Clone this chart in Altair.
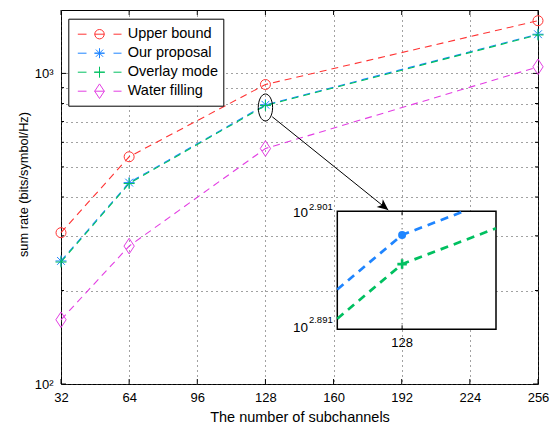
import math
import altair as alt
import pandas as pd

# ---------------- data ----------------
SUBCHANNELS = [32, 64, 128, 256]
SERIES = ["Upper bound", "Our proposal", "Overlay mode", "Water filling"]
UPPER_BOUND = [307, 539, 921, 1478]
OUR_PROPOSAL = [249, 445, 792.5, 1337]
OVERLAY_MODE = [247, 442, 788, 1330]
WATER_FILLING = [161, 278, 573, 1050]
VALUES = [UPPER_BOUND, OUR_PROPOSAL, OVERLAY_MODE, WATER_FILLING]
COLORS = ["#ff3333", "#1f85ff", "#00c060", "#e33ee3"]

X_TICKS = [32, 64, 96, 128, 160, 192, 224, 256]
Y_TICKS = [100, 200, 300, 400, 500, 600, 700, 800, 900, 1000]
Y_MAJOR = [100, 1000]
Y_MINOR = [200, 300, 400, 500, 600, 700, 800, 900]
Y_LABELS = {100: "10²", 1000: "10³"}
X_DOMAIN = [32, 256]
Y_DOMAIN = [100, 1600]

ZOOM_INDEX = 2            # the 128-subchannel point that is magnified
INSET_SERIES = [1, 2]     # Our proposal, Overlay mode
INSET_X_DOMAIN = [126.82, 129.71]
INSET_EXP = [2.891, 2.901]
INSET_TICK_X = 128

ARROW_X = [131.2, 185.7]
ARROW_Y = [725, 363]

# ---------------- layout / style ----------------
FONT = "Liberation Sans"
W, H = 477, 374
INSET_X_RANGE = [276.3, 435.0]
INSET_Y_RANGE = [319.3, 201.3]

CIRCLE = "M1,0A1,1,0,1,1,-1,0A1,1,0,1,1,1,0Z"
ASTER = "M0,-1L0,1M-1,0L1,0M-0.71,-0.71L0.71,0.71M-0.71,0.71L0.71,-0.71"
PLUS = "M0,-1L0,1M-1,0L1,0"
DIAMOND = "M0,-1L0.66,0L0,1L-0.66,0Z"
MARKERS = [CIRCLE, ASTER, PLUS, DIAMOND]
MARKER_SIZES = [100, 121, 121, 243]

DASHES = "M-2.17,0L-1.3,0M1.4,0L2.2,0M-0.5,0L0.5,0"
LEGEND_PATHS = [
    DASHES + "M0.47,0A0.47,0.47,0,1,1,-0.47,0A0.47,0.47,0,1,1,0.47,0",
    DASHES + "M0,-0.5L0,0.5M-0.5,0L0.5,0M-0.36,-0.36L0.36,0.36M-0.36,0.36L0.36,-0.36",
    DASHES + "M0,-0.55L0,0.55M-0.55,0L0.55,0",
    DASHES + "M0,-0.73L0.48,0L0,0.73L-0.48,0Z",
]
ELLIPSE = "M0,-1A0.53,1,0,1,1,0,1A0.53,1,0,1,1,0,-1Z"
ARROW_HEAD = "M0,0L0.9,2L0,1.5L-0.9,2Z"

rows = []
for name, vals in zip(SERIES, VALUES):
    for n, v in zip(SUBCHANNELS, vals):
        rows.append({"series": name, "n": n, "rate": v})
df = pd.DataFrame(rows)

ylabel_expr = " : ".join(
    [f"datum.value == {k} ? '{v}'" for k, v in Y_LABELS.items()]) + " : ''"


def Xm(field, axis=True):
    ax = alt.Axis(values=X_TICKS, title="The number of subchannels", labelPadding=7,
                  labelFlush=False, labelOverlap=False, titleFontSize=14.5,
                  titleY=33, titleBaseline="middle", format="d") if axis else None
    return alt.X(f"{field}:Q", scale=alt.Scale(domain=X_DOMAIN, nice=False, zero=False), axis=ax)


def Ym(field, axis=True):
    ax = alt.Axis(values=Y_TICKS, labelExpr=ylabel_expr, labelPadding=8, labelFlush=False,
                  labelOverlap=False, title="sum rate (bits/symbol/Hz)", titleFontSize=12.8,
                  titleAngle=270, titleX=-38, titleY=174, titleBaseline="middle",
                  titleAlign="center") if axis else None
    return alt.Y(f"{field}:Q", scale=alt.Scale(type="log", domain=Y_DOMAIN, nice=False), axis=ax)


def Xi(field):
    return alt.X(f"{field}:Q", scale=alt.Scale(domain=INSET_X_DOMAIN, range=INSET_X_RANGE,
                                              nice=False, zero=False), axis=None)


def Yi(field):
    return alt.Y(f"{field}:Q", scale=alt.Scale(type="log", domain=[10 ** e for e in INSET_EXP],
                                              range=INSET_Y_RANGE, nice=False), axis=None)


# ---------------- main panel ----------------
main_layers = []

# inward ticks (MATLAB style box)
xt = pd.DataFrame({"n": X_TICKS})
main_layers.append(alt.Chart(xt).mark_rule(color="black", strokeWidth=1).encode(
    x=Xm("n"), y=alt.value(H), y2=alt.value(H - 5)))
main_layers.append(alt.Chart(xt).mark_rule(color="black", strokeWidth=1).encode(
    x=Xm("n"), y=alt.value(0), y2=alt.value(5)))
for vals, ln in ((Y_MAJOR, 5), (Y_MINOR, 3)):
    yt = pd.DataFrame({"rate": vals})
    main_layers.append(alt.Chart(yt).mark_rule(color="black", strokeWidth=1).encode(
        y=Ym("rate"), x=alt.value(0), x2=alt.value(ln)))
    main_layers.append(alt.Chart(yt).mark_rule(color="black", strokeWidth=1).encode(
        y=Ym("rate"), x=alt.value(W), x2=alt.value(W - ln)))

for i, name in enumerate(SERIES):
    sd = df[df.series == name]
    main_layers.append(alt.Chart(sd).mark_line(
        color=COLORS[i], strokeWidth=1.1, strokeDash=[7, 5]).encode(x=Xm("n"), y=Ym("rate")))
    main_layers.append(alt.Chart(sd).mark_point(
        shape=MARKERS[i], size=MARKER_SIZES[i], filled=False, color=COLORS[i],
        strokeWidth=1, opacity=1).encode(x=Xm("n"), y=Ym("rate")))

# highlight ellipse around the magnified point
hl = pd.DataFrame({"n": [SUBCHANNELS[ZOOM_INDEX]], "rate": [OUR_PROPOSAL[ZOOM_INDEX]]})
main_layers.append(alt.Chart(hl).mark_point(
    shape=ELLIPSE, size=729, filled=False, color="black", strokeWidth=1, opacity=1,
    yOffset=2.7).encode(x=Xm("n"), y=Ym("rate")))

leg = alt.Legend(title=None, orient="none", legendX=7.3, legendY=8.7, symbolSize=400,
                 symbolStrokeWidth=1, symbolOffset=15.7, labelOffset=17.7, padding=5,
                 rowPadding=1, labelFont=FONT, labelFontSize=14.5, labelColor="black",
                 strokeColor="black", fillColor="white", symbolFillColor="transparent")
main_layers.append(alt.Chart(df).transform_filter("false").mark_point(
    filled=False, opacity=1, strokeWidth=1).encode(
    x=Xm("n"), y=Ym("rate"),
    color=alt.Color("series:N", scale=alt.Scale(domain=SERIES, range=COLORS), legend=leg),
    shape=alt.Shape("series:N", scale=alt.Scale(domain=SERIES, range=LEGEND_PATHS), legend=leg)))

main = alt.layer(*main_layers)

# ---------------- inset ----------------
def clip_polyline(xs, ls, x0, x1, y0, y1):
    pts = []
    for i in range(len(xs) - 1):
        ax, ay, bx, by = xs[i], ls[i], xs[i + 1], ls[i + 1]
        dx, dy = bx - ax, by - ay
        t0, t1, ok = 0.0, 1.0, True
        for p, q in ((-dx, ax - x0), (dx, x1 - ax), (-dy, ay - y0), (dy, y1 - ay)):
            if p == 0:
                if q < 0:
                    ok = False
                    break
            else:
                t = q / p
                if p < 0:
                    t0 = max(t0, t)
                else:
                    t1 = min(t1, t)
        if ok and t0 <= t1:
            for t in (t0, t1):
                pt = (ax + t * dx, ay + t * dy)
                if not pts or abs(pts[-1][0] - pt[0]) > 1e-9:
                    pts.append(pt)
    return pts


inset_layers = []
box = pd.DataFrame({"x0": [INSET_X_DOMAIN[0]], "x1": [INSET_X_DOMAIN[1]],
                    "y0": [10 ** INSET_EXP[0]], "y1": [10 ** INSET_EXP[1]]})
inset_layers.append(alt.Chart(box).mark_rect(fill="white", stroke="black", strokeWidth=1.5).encode(
    x=Xi("x0"), x2="x1", y=Yi("y0"), y2="y1"))
grid = pd.DataFrame({"n": [INSET_TICK_X], "lo": [10 ** INSET_EXP[0]], "hi": [10 ** INSET_EXP[1]]})
inset_layers.append(alt.Chart(grid).mark_rule(color="#333", strokeWidth=1, strokeDash=[1, 4]).encode(
    x=Xi("n"), y=Yi("lo"), y2="hi"))
inset_layers.append(alt.Chart(grid).mark_rule(color="black", strokeWidth=1).encode(
    x=Xi("n"), y=Yi("lo"), y2=alt.value(INSET_Y_RANGE[0] - 4)))
inset_layers.append(alt.Chart(grid).mark_rule(color="black", strokeWidth=1).encode(
    x=Xi("n"), y=Yi("hi"), y2=alt.value(INSET_Y_RANGE[1] + 4)))

inset_markers = [("circle", 64, True, 1), (PLUS, 90, False, 2.6)]
for k, si in enumerate(INSET_SERIES):
    vals = VALUES[si]
    pts = clip_polyline(SUBCHANNELS, [math.log10(v) for v in vals],
                        INSET_X_DOMAIN[0], INSET_X_DOMAIN[1], INSET_EXP[0], INSET_EXP[1])
    ld = pd.DataFrame({"n": [p[0] for p in pts], "rate": [10 ** p[1] for p in pts],
                       "o": list(range(len(pts)))})
    inset_layers.append(alt.Chart(ld).mark_line(
        color=COLORS[si], strokeWidth=2.7, strokeDash=[8, 6]).encode(
        x=Xi("n"), y=Yi("rate"), order="o:Q"))
    shp, sz, fil, sw = inset_markers[k]
    md = pd.DataFrame({"n": [SUBCHANNELS[ZOOM_INDEX]], "rate": [vals[ZOOM_INDEX]]})
    inset_layers.append(alt.Chart(md).mark_point(
        shape=shp, size=sz, filled=fil, color=COLORS[si], strokeWidth=sw, opacity=1).encode(
        x=Xi("n"), y=Yi("rate")))

lab128 = pd.DataFrame({"n": [INSET_TICK_X], "y": [10 ** INSET_EXP[0]], "t": [str(INSET_TICK_X)]})
inset_layers.append(alt.Chart(lab128).mark_text(
    font=FONT, fontSize=13, color="black", baseline="middle", dy=13.7).encode(
    x=Xi("n"), y=Yi("y"), text="t:N"))
LABEL_DY = {INSET_EXP[0]: (-1.3, -9.6), INSET_EXP[1]: (2.0, -4.8)}
for e in INSET_EXP:
    ld = pd.DataFrame({"n": [INSET_X_DOMAIN[0]], "y": [10 ** e], "b": ["10"], "s": [f"{e:.3f}"]})
    dy_b, dy_s = LABEL_DY[e]
    inset_layers.append(alt.Chart(ld).mark_text(
        font=FONT, fontSize=13.5, color="black", align="right", baseline="middle",
        dx=-29.3, dy=dy_b).encode(x=Xi("n"), y=Yi("y"), text="b:N"))
    inset_layers.append(alt.Chart(ld).mark_text(
        font=FONT, fontSize=9.5, color="black", align="right", baseline="middle",
        dx=-4.6, dy=dy_s).encode(x=Xi("n"), y=Yi("y"), text="s:N"))

inset = alt.layer(*inset_layers)

# ---------------- arrow ----------------
def px(x):
    return (x - X_DOMAIN[0]) / (X_DOMAIN[1] - X_DOMAIN[0]) * W


def py(y):
    lo, hi = math.log10(Y_DOMAIN[0]), math.log10(Y_DOMAIN[1])
    return H * (hi - math.log10(y)) / (hi - lo)


ang = math.degrees(math.atan2(px(ARROW_X[1]) - px(ARROW_X[0]),
                              -(py(ARROW_Y[1]) - py(ARROW_Y[0])))) % 360
arr = pd.DataFrame({"x0": [ARROW_X[0]], "y0": [ARROW_Y[0]], "x1": [ARROW_X[1]], "y1": [ARROW_Y[1]]})
arrow = alt.layer(
    alt.Chart(arr).mark_rule(color="black", strokeWidth=1).encode(
        x=Xm("x0", False), y=Ym("y0", False), x2="x1", y2="y1"),
    alt.Chart(arr).mark_point(shape=ARROW_HEAD, size=121, filled=True, color="black",
                              opacity=1, angle=ang, strokeWidth=0.5).encode(
        x=Xm("x1", False), y=Ym("y1", False)),
)

chart = alt.layer(main, inset, arrow).resolve_scale(
    x="independent", y="independent"
).properties(
    width=W, height=H, autosize="none",
    padding={"left": 53, "top": 2, "right": 12, "bottom": 40},
).configure_view(
    stroke="black", strokeWidth=1
).configure_axis(
    labelFont=FONT, titleFont=FONT, labelColor="black", titleColor="black",
    labelFontSize=13, titleFontWeight="normal", domain=False, ticks=False,
    grid=True, gridDash=[1, 4], gridColor="#444444", gridWidth=1,
)

chart.save("out.html", embed_options={"renderer": "svg", "actions": False})
